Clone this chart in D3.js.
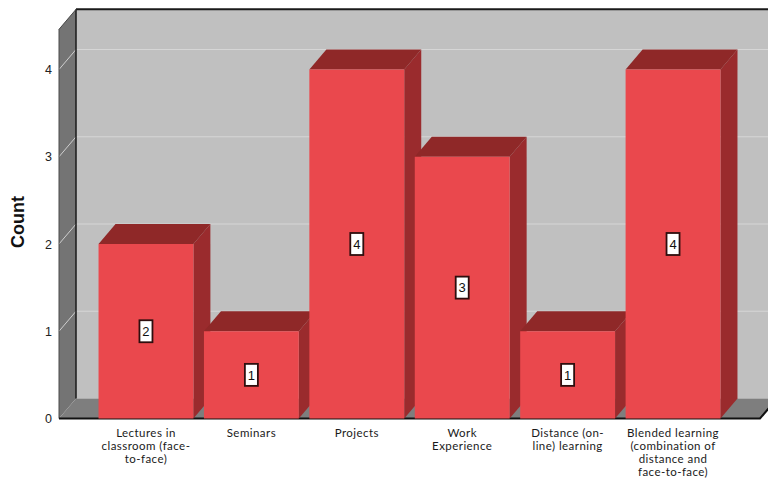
<!DOCTYPE html>
<html>
<head>
<meta charset="utf-8">
<script src="https://cdn.jsdelivr.net/npm/d3@7/dist/d3.min.js"></script>
<style>
  html, body { margin: 0; padding: 0; background: #ffffff; }
  svg { display: block; }
</style>
</head>
<body>
<svg id="chart" width="768" height="479"></svg>
<script>
// Preferred teaching methods: response counts
const categories = [
  ["Lectures in", "classroom (face-", "to-face)"],
  ["Seminars"],
  ["Projects"],
  ["Work", "Experience"],
  ["Distance (on-", "line) learning"],
  ["Blended learning", "(combination of", "distance and", "face-to-face)"]
];
const counts = [2, 1, 4, 3, 1, 4];
const tickValues = [0, 1, 2, 3, 4];
const axisTitle = "Count";

const svg = d3.select("#chart");

// 3D box geometry: front plane and the depth offset to the back wall
const DX = 17, DY = -20;
const front = { left: 59, right: 760, bottom: 418.5 };
const yTopValue = 4.46;

const y = d3.scaleLinear().domain([0, 4]).range([front.bottom, 69.5]);
const x = d3.scaleBand()
  .domain(d3.range(categories.length))
  .range([front.left, front.right])
  .paddingInner(0.1)
  .paddingOuter(0.375);

const yTop = y(yTopValue);
const pts = a => a.map(p => p.join(",")).join(" ");

// Back wall
svg.append("rect")
  .attr("x", front.left + DX).attr("y", yTop + DY)
  .attr("width", front.right - front.left + 40)
  .attr("height", front.bottom - yTop)
  .attr("fill", "#c0c0c0");

// Gridlines on the back wall
svg.append("g").selectAll("line")
  .data(tickValues.filter(v => v > 0))
  .join("line")
  .attr("x1", front.left + DX).attr("x2", 768)
  .attr("y1", d => y(d) + DY).attr("y2", d => y(d) + DY)
  .attr("stroke", "#d6d6d6").attr("stroke-width", 1.2);

// Left side wall
svg.append("polygon")
  .attr("points", pts([
    [front.left, yTop], [front.left + DX, yTop + DY],
    [front.left + DX, front.bottom + DY], [front.left, front.bottom]
  ]))
  .attr("fill", "#747474");

// Gridlines on the side wall
svg.append("g").selectAll("line")
  .data(tickValues.filter(v => v > 0))
  .join("line")
  .attr("x1", front.left).attr("x2", front.left + DX)
  .attr("y1", d => y(d)).attr("y2", d => y(d) + DY)
  .attr("stroke", "#cfcfcf").attr("stroke-width", 1);

// Floor
svg.append("polygon")
  .attr("points", pts([
    [front.left, front.bottom], [front.right, front.bottom],
    [front.right + DX, front.bottom + DY], [front.left + DX, front.bottom + DY]
  ]))
  .attr("fill", "#7e7e7e");

// Frame edges
svg.append("line")
  .attr("x1", front.left + DX).attr("x2", 768)
  .attr("y1", yTop + DY).attr("y2", yTop + DY)
  .attr("stroke", "#1a1a1a").attr("stroke-width", 2);
svg.append("line")
  .attr("x1", front.left + DX).attr("x2", front.left + DX)
  .attr("y1", yTop + DY).attr("y2", front.bottom + DY)
  .attr("stroke", "#1a1a1a").attr("stroke-width", 1.5);
svg.append("line")
  .attr("x1", front.left).attr("x2", front.left)
  .attr("y1", yTop).attr("y2", front.bottom)
  .attr("stroke", "#4a4a4a").attr("stroke-width", 1);
svg.append("line")
  .attr("x1", front.left).attr("x2", front.left + DX)
  .attr("y1", yTop).attr("y2", yTop + DY)
  .attr("stroke", "#4a4a4a").attr("stroke-width", 1);
svg.append("polyline")
  .attr("points", pts([
    [front.left, front.bottom], [front.right, front.bottom],
    [front.right + DX, front.bottom + DY]
  ]))
  .attr("fill", "none")
  .attr("stroke", "#111").attr("stroke-width", 2);

// Bars, drawn left to right so later fronts cover earlier side faces
const bars = svg.append("g").selectAll("g")
  .data(counts)
  .join("g");

bars.each(function (v, i) {
  const g = d3.select(this);
  const x0 = x(i), x1 = x(i) + x.bandwidth();
  const yt = y(v), yb = y(0);
  g.append("polygon")
    .attr("points", pts([[x1, yt], [x1 + DX, yt + DY], [x1 + DX, yb + DY], [x1, yb]]))
    .attr("fill", "#9a2b2d");
  g.append("polygon")
    .attr("points", pts([[x0, yt], [x0 + DX, yt + DY], [x1 + DX, yt + DY], [x1, yt]]))
    .attr("fill", "#8f2828");
  g.append("rect")
    .attr("x", x0).attr("y", yt)
    .attr("width", x1 - x0).attr("height", yb - yt)
    .attr("fill", "#ea484d");
});

// Value labels in boxes
const lab = svg.append("g").selectAll("g")
  .data(counts)
  .join("g")
  .attr("transform", (d, i) => `translate(${x(i) + x.bandwidth() / 2},${y(d / 2)})`);
lab.append("rect")
  .attr("x", -6.5).attr("y", -11)
  .attr("width", 13).attr("height", 22)
  .attr("fill", "#ffffff")
  .attr("stroke", "#2e0e0e").attr("stroke-width", 1.8);
lab.append("text")
  .attr("text-anchor", "middle")
  .attr("dy", "0.36em")
  .attr("font-family", "Liberation Sans, Arial, sans-serif")
  .attr("font-size", 13)
  .attr("fill", "#111")
  .text(d => d);

// Y axis tick labels
const yAxis = svg.append("g")
  .attr("transform", `translate(${front.left},0)`)
  .call(d3.axisLeft(y).tickValues(tickValues).tickSize(0).tickPadding(7).tickFormat(d3.format("d")));
yAxis.select(".domain").remove();
yAxis.selectAll("text")
  .attr("font-family", "Liberation Sans, Arial, sans-serif")
  .attr("font-size", 12.5)
  .attr("fill", "#222");

// Y axis title
svg.append("text")
  .attr("transform", "translate(24,222) rotate(-90)")
  .attr("text-anchor", "middle")
  .attr("font-family", "Liberation Sans, Arial, sans-serif")
  .attr("font-weight", "bold")
  .attr("font-size", 18)
  .attr("fill", "#111")
  .text(axisTitle);

// Category labels
const cat = svg.append("g").selectAll("text")
  .data(categories)
  .join("text")
  .attr("text-anchor", "middle")
  .attr("font-family", "Lato, sans-serif")
  .attr("font-size", 11.5)
  .attr("letter-spacing", 0.45)
  .attr("fill", "#1a1a1a")
  .attr("transform", (d, i) => `translate(${x(i) + x.bandwidth() / 2},437)`);
cat.selectAll("tspan")
  .data(d => d)
  .join("tspan")
  .attr("x", 0)
  .attr("dy", (d, j) => j === 0 ? 0 : 13)
  .text(d => d);
</script>
</body>
</html>
